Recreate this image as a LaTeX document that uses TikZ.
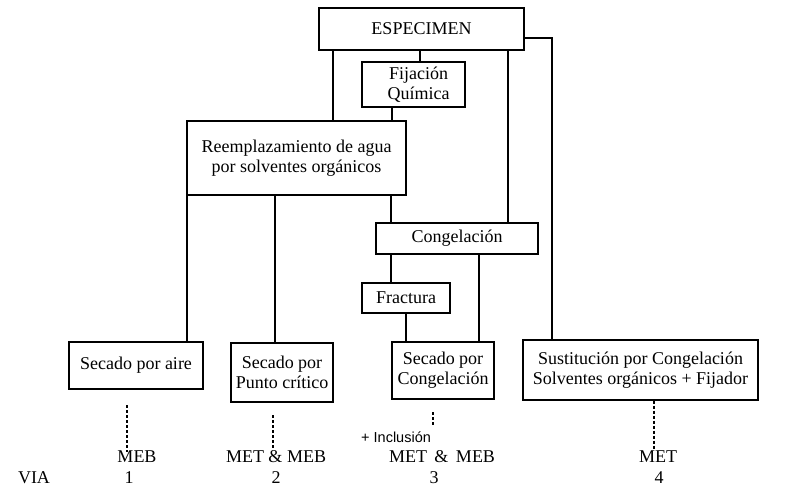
\documentclass[tikz,border=0pt]{standalone}
\usepackage{fontspec}
\setmainfont{Liberation Serif}
\newfontfamily\inclfont{Liberation Sans}
\begin{document}
\begin{tikzpicture}[x=1pt, y=-1pt,
    box/.style={draw, line width=1.1pt, inner sep=0pt, align=center, font=\fontsize{18}{20}\selectfont},
    lbl/.style={inner sep=0pt, font=\fontsize{18}{20}\selectfont},
    link/.style={line width=1.1pt},
    via/.style={line width=1.1pt, densely dashed}]
    \useasboundingbox (0,0) rectangle (793,489);

    % Top: specimen and chemical fixation
    \node[box, minimum width=205pt, minimum height=42pt] (esp) at (421.5,29) {ESPECIMEN};
    \node[box, minimum width=103pt, minimum height=45pt] (fij) at (413.5,84.5) {\hspace{10pt}Fijación\\\hspace{10pt}Química};
    \node[box, minimum width=219pt, minimum height=74pt] (reem) at (296.5,158) {Reemplazamiento de agua\\por solventes orgánicos};

    % Freezing branch
    \node[box, minimum width=162pt, minimum height=31pt] (cong) at (457,238.5) {Congelación};
    \node[box, minimum width=88pt, minimum height=30pt] (frac) at (406,298) {Fractura};

    % Drying methods (bottom row)
    \node[box, minimum width=134pt, minimum height=47pt] (aire) at (136,365.5) {Secado por aire};
    \node[box, minimum width=102pt, minimum height=59pt] (punto) at (282,372.5) {Secado por\\Punto crítico};
    \node[box, minimum width=102pt, minimum height=57pt] (secong) at (443,370.5) {Secado por\\Congelación};
    \node[box, minimum width=235pt, minimum height=60pt] (sust) at (640.5,370) {Sustitución por Congelación\\Solventes orgánicos + Fijador};

    % Connectors
    \draw[link] (esp.south -| 420,0) -- (fij.north -| 420,0);
    \draw[link] (fij.south -| 392,0) -- (reem.north -| 392,0);
    \draw[link] (esp.south -| 333,0) -- (reem.north -| 333,0);
    \draw[link] (esp.south -| 508,0) -- (cong.north -| 508,0);
    \draw[link] (esp.east |- 0,38) -| (sust.north -| 552,0);
    \draw[link] (reem.south -| 187,0) -- (aire.north -| 187,0);
    \draw[link] (reem.south -| 275,0) -- (punto.north -| 275,0);
    \draw[link] (reem.south -| 391,0) -- (cong.north -| 391,0);
    \draw[link] (cong.south -| 391,0) -- (frac.north -| 391,0);
    \draw[link] (cong.south -| 479,0) -- (secong.north -| 479,0);
    \draw[link] (frac.south -| 406,0) -- (secong.north -| 406,0);

    % Microscopy labels
    \node[lbl] (meb1) at (137,457) {MEB};
    \node[lbl] (via1) at (129,478) {1};
    \node[lbl] (met2) at (276,457) {MET \& MEB};
    \node[lbl] (via2) at (276,478) {2};
    \node[lbl] (met3) at (442,457) {MET\hspace{3pt} \&\hspace{3pt} MEB};
    \node[lbl] (via3) at (434,478) {3};
    \node[lbl] (met4) at (658,457) {MET};
    \node[lbl] (via4) at (659,478) {4};
    \node[lbl] (via) at (34,478) {VIA};
    \node[inner sep=0pt, anchor=west, font=\inclfont\fontsize{14.5}{16}\selectfont] (incl) at (361,437) {+ Inclusión};

    % Dashed leads to the microscopes
    \coordinate (d1) at (127,405);
    \coordinate (d2) at (273,415);
    \coordinate (d3) at (433,412);
    \draw[via] (d1) -- (d1 |- 0,452);
    \draw[via] (d2) -- (d2 |- 0,449);
    \draw[via] (d3) -- (d3 |- 0,425);
    \draw[via] (sust.south -| 654,0) -- (654,449);
\end{tikzpicture}
\end{document}
